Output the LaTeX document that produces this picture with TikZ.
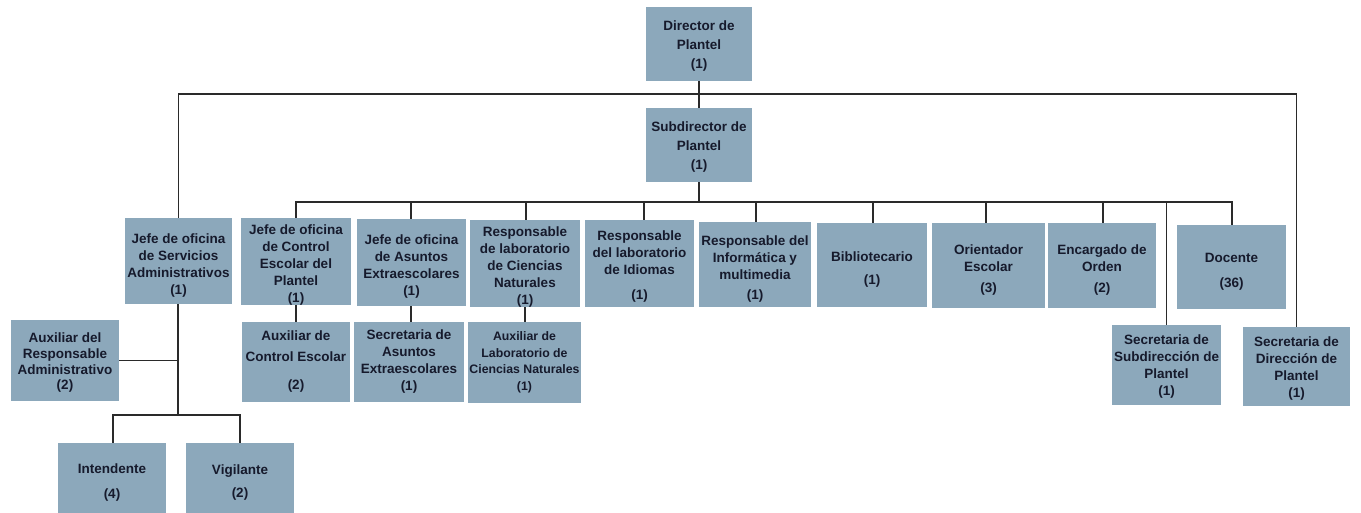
\documentclass[tikz,border=0pt]{standalone}
\usepackage{fontspec}
\setmainfont{Liberation Sans}
\definecolor{boxfill}{HTML}{8CA8BB}
\definecolor{boxtext}{HTML}{161A2C}
\definecolor{wire}{HTML}{2A2A2A}
% a taller first line pushes the text block a little lower in its box
\newcommand\lineup[1]{\rule{0pt}{#1}}
\begin{document}
\begin{tikzpicture}[x=1pt,y=-1pt,
  box/.style 2 args={fill=boxfill, draw=none, minimum width=#1pt, minimum height=#2pt,
    inner sep=0pt, align=center, text=boxtext,
    font=\fontsize{13.5}{17}\selectfont\bfseries},
  link/.style={draw=wire, line width=1.3pt}]
\useasboundingbox (0,0) rectangle (1361,512);
\clip (0,0) rectangle (1361,512);

% top of the chart
\node[box={106}{74}] (dir) at (699,44) {\lineup{14pt}Director de\\[2pt]Plantel\\[2pt](1)};
\node[box={106}{74}] (sub) at (699,145) {\lineup{14pt}Subdirector de\\[2pt]Plantel\\[2pt](1)};

% first row under the directors
\node[box={107}{86}] (jsa) at (178.5,261) {\lineup{18pt}Jefe de oficina\\de Servicios\\Administrativos\\(1)};
\node[box={110}{87}] (jce) at (296,261.5) {\lineup{16pt}Jefe de oficina\\de Control\\Escolar del\\Plantel\\(1)};
\node[box={109}{87}] (jae) at (411.5,262.5) {\lineup{18pt}Jefe de oficina\\de Asuntos\\Extraescolares\\(1)};
\node[box={110}{87}] (rlc) at (525,263.5) {\lineup{16pt}Responsable\\de laboratorio\\de Ciencias\\Naturales\\(1)};
\node[box={109}{87}] (rli) at (639.5,263.5) {\lineup{16pt}Responsable\\del laboratorio\\de Idiomas\\[8pt](1)};
\node[box={112}{85}] (rim) at (755,264.5) {\lineup{18pt}Responsable del\\Informática y\\multimedia\\[3pt](1)};
\node[box={110}{84}] (bib) at (872,265) {\lineup{18pt}Bibliotecario\\[6pt](1)};
\node[box={113}{85}] (ori) at (988.5,265.5) {\lineup{18pt}Orientador\\Escolar\\[4pt](3)};
\node[box={108}{85}] (enc) at (1102,265.5) {\lineup{18pt}Encargado de\\Orden\\[4pt](2)};
\node[box={109}{84}] (doc) at (1231.5,267) {\lineup{18pt}Docente\\[8pt](36)};

% second row
\node[box={108}{81}] (aux) at (65,360.5) {\lineup{14pt}Auxiliar del\\[-1pt]Responsable\\[-1pt]Administrativo\\[-2pt](2)};
\node[box={108}{80}] (ace) at (296,362) {Auxiliar de\\[4pt]Control Escolar\\[11pt](2)};
\node[box={110}{80}] (sae) at (409,362) {Secretaria de\\Asuntos\\Extraescolares\\(1)};
\node[box={113}{81}, font=\fontsize{12.3}{16.5}\selectfont\bfseries] (alc) at (524.5,362.5) {Auxiliar de\\Laboratorio de\\Ciencias Naturales\\(1)};
\node[box={109}{80}] (ssp) at (1166.5,365) {\lineup{13pt}Secretaria de\\Subdirección de\\Plantel\\(1)};
\node[box={107}{79}] (sdp) at (1296.5,366.5) {\lineup{13pt}Secretaria de\\Dirección de\\Plantel\\(1)};

% bottom row
\node[box={108}{80}] (int) at (112,483) {Intendente\\[8pt](4)};
\node[box={108}{80}] (vig) at (240,483) {Vigilante\\[6pt](2)};

% bus lines
\coordinate (bus1) at (699,94);
\coordinate (bus2) at (699,202);
\coordinate (bus3) at (178,415);

% director level
\draw[link] (dir.south) -- (sub.north);
\draw[link] (jsa.north) |- (bus1) -| (sdp.north);

% subdirector level
\draw[link] (sub.south) -- (bus2);
\draw[link] (jce.north) |- (bus2) -| ([xshift=0.5pt]doc.north);
\draw[link] ([xshift=-0.5pt]jae.north) -- ([xshift=-0.5pt]jae.north |- bus2);
\draw[link] ([xshift=1pt]rlc.north) -- ([xshift=1pt]rlc.north |- bus2);
\draw[link] ([xshift=4.5pt]rli.north) -- ([xshift=4.5pt]rli.north |- bus2);
\draw[link] ([xshift=1pt]rim.north) -- ([xshift=1pt]rim.north |- bus2);
\draw[link] ([xshift=1pt]bib.north) -- ([xshift=1pt]bib.north |- bus2);
\draw[link] ([xshift=-2.5pt]ori.north) -- ([xshift=-2.5pt]ori.north |- bus2);
\draw[link] ([xshift=1pt]enc.north) -- ([xshift=1pt]enc.north |- bus2);
\draw[link] (ssp.north) -- (ssp.north |- bus2);

% second row links
\draw[link] (jce.south) -- (ace.north);
\draw[link] ([xshift=-0.5pt]jae.south) -- ([xshift=-0.5pt]jae.south |- sae.north);
\draw[link] (rlc.south) -- (rlc.south |- alc.north);

% administrative services branch
\draw[link] ([xshift=-0.5pt]jsa.south) -- ([xshift=-0.5pt]jsa.south |- bus3);
\draw[link] (aux.east) -- (aux.east -| bus3);
\draw[link] ([xshift=1pt]int.north) |- (bus3) -| (vig.north);
\end{tikzpicture}
\end{document}
